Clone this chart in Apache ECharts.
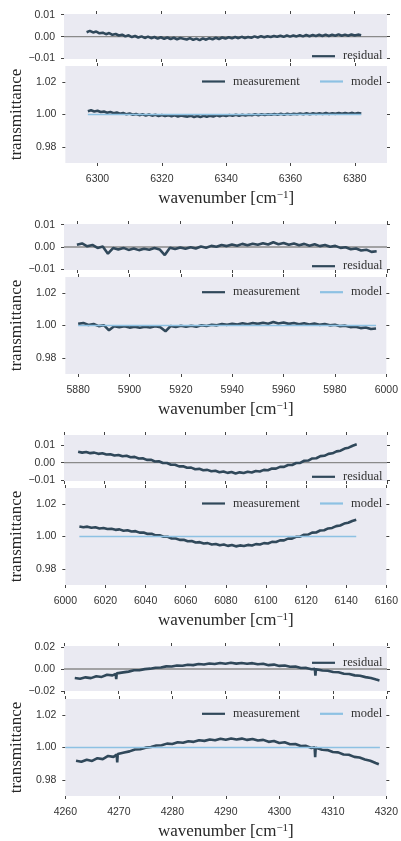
<!DOCTYPE html>
<html>
<head>
<meta charset="utf-8">
<script src="https://cdn.jsdelivr.net/npm/echarts@6/dist/echarts.min.js"></script>
<style>
  html, body { margin: 0; padding: 0; background: #fff; }
  #chart { width: 401px; height: 841px; }
</style>
</head>
<body>
<div id="chart"></div>
<script>
// panel 1: 6290-6390 cm-1
const wn1 = [6297, 6298, 6299, 6300, 6301, 6302, 6303, 6304, 6305, 6306, 6307, 6308, 6309, 6310, 6311, 6312,
  6313, 6314, 6315, 6316, 6317, 6318, 6319, 6320, 6321, 6322, 6323, 6324, 6325, 6326, 6327, 6328, 6329, 6330,
  6331, 6332, 6333, 6334, 6335, 6336, 6337, 6338, 6339, 6340, 6341, 6342, 6343, 6344, 6345, 6346, 6347, 6348,
  6349, 6350, 6351, 6352, 6353, 6354, 6355, 6356, 6357, 6358, 6359, 6360, 6361, 6362, 6363, 6364, 6365, 6366,
  6367, 6368, 6369, 6370, 6371, 6372, 6373, 6374, 6375, 6376, 6377, 6378, 6379, 6380, 6381, 6382];
const res1 = [0.0020, 0.0026, 0.0019, 0.0023, 0.0015, 0.0018, 0.0011, 0.0016, 0.0008, 0.0012, 0.0005, 0.0009,
  0.0001, 0.0006, -0.0002, 0.0003, -0.0004, 0.0001, -0.0006, 0.0000, -0.0007, -0.0002, -0.0009, -0.0003,
  -0.0010, -0.0004, -0.0011, -0.0005, -0.0012, -0.0006, -0.0010, -0.0013, -0.0007, -0.0015, -0.0009, -0.0016,
  -0.0008, -0.0014, -0.0007, -0.0012, -0.0005, -0.0011, -0.0004, -0.0009, -0.0003, -0.0008, -0.0002, -0.0007,
  -0.0001, -0.0006, -0.0002, -0.0005, 0.0001, -0.0004, 0.0002, -0.0003, 0.0002, -0.0002, 0.0003, -0.0001,
  0.0004, -0.0001, 0.0005, 0.0000, 0.0005, 0.0001, 0.0006, 0.0001, 0.0007, 0.0002, 0.0007, 0.0003, 0.0008,
  0.0003, 0.0009, 0.0003, 0.0008, 0.0004, 0.0010, 0.0004, 0.0009, 0.0004, 0.0010, 0.0005, 0.0009, 0.0006];
const modelX1 = [6297, 6382];
const model1 = [1.000, 1.000];

// panel 2: 5875-6000 cm-1
const wn2 = [5880, 5882, 5884, 5886, 5888, 5890, 5892, 5894, 5896, 5898, 5900, 5902, 5904, 5906, 5908, 5910,
  5912, 5914, 5916, 5918, 5920, 5922, 5924, 5926, 5928, 5930, 5932, 5934, 5936, 5938, 5940, 5942, 5944, 5946,
  5948, 5950, 5952, 5954, 5956, 5958, 5960, 5962, 5964, 5966, 5968, 5970, 5972, 5974, 5976, 5978, 5980, 5982,
  5984, 5986, 5988, 5990, 5992, 5994, 5996];
const res2 = [0.0010, 0.0016, 0.0003, 0.0009, -0.0004, 0.0002, -0.0030, -0.0005, -0.0011, -0.0004, -0.0013,
  -0.0007, -0.0014, -0.0008, -0.0012, -0.0005, -0.0011, -0.0036, -0.0003, -0.0009, -0.0002, -0.0008, -0.0001,
  -0.0007, 0.0002, -0.0003, 0.0005, 0.0001, 0.0009, 0.0004, 0.0011, 0.0006, 0.0014, 0.0008, 0.0015, 0.0010,
  0.0017, 0.0011, 0.0021, 0.0012, 0.0018, 0.0010, 0.0016, 0.0008, 0.0014, 0.0006, 0.0012, 0.0004, 0.0009,
  0.0001, 0.0005, -0.0004, -0.0001, -0.0010, -0.0007, -0.0016, -0.0012, -0.0022, -0.0019];
const modelX2 = [5880, 5996];
const model2 = [1.000, 1.000];

// panel 3: 6000-6160 cm-1
const wn3 = [6007, 6009, 6011, 6013, 6015, 6017, 6019, 6021, 6023, 6025, 6027, 6029, 6031, 6033, 6035, 6037,
  6039, 6041, 6043, 6045, 6047, 6049, 6051, 6053, 6055, 6057, 6059, 6061, 6063, 6065, 6067, 6069, 6071, 6073,
  6075, 6077, 6079, 6081, 6083, 6085, 6087, 6089, 6091, 6093, 6095, 6097, 6099, 6101, 6103, 6105, 6107, 6109,
  6111, 6113, 6115, 6117, 6119, 6121, 6123, 6125, 6127, 6129, 6131, 6133, 6135, 6137, 6139, 6141, 6143, 6145];
const res3 = [0.0062, 0.0057, 0.0061, 0.0054, 0.0057, 0.0050, 0.0053, 0.0046, 0.0048, 0.0041, 0.0044, 0.0036,
  0.0039, 0.0031, 0.0033, 0.0024, 0.0025, 0.0016, 0.0017, 0.0007, 0.0008, -0.0002, -0.0002, -0.0012, -0.0012,
  -0.0021, -0.0020, -0.0029, -0.0028, -0.0037, -0.0035, -0.0043, -0.0041, -0.0049, -0.0046, -0.0054, -0.0050,
  -0.0058, -0.0053, -0.0061, -0.0055, -0.0059, -0.0052, -0.0056, -0.0047, -0.0050, -0.0041, -0.0043, -0.0033,
  -0.0034, -0.0024, -0.0024, -0.0013, -0.0013, -0.0002, -0.0001, 0.0011, 0.0012, 0.0024, 0.0025, 0.0037,
  0.0039, 0.0050, 0.0053, 0.0064, 0.0068, 0.0080, 0.0085, 0.0096, 0.0104];
const modelX3 = [6007, 6145];
const model3 = [1.000, 1.000];

// panel 4: 4260-4320 cm-1
const wn4 = [4262, 4263, 4264, 4265, 4266, 4267, 4268, 4269, 4269.6, 4269.7, 4269.8, 4270, 4271, 4272, 4273,
  4274, 4275, 4276, 4277, 4278, 4279, 4280, 4281, 4282, 4283, 4284, 4285, 4286, 4287, 4288, 4289, 4290, 4291,
  4292, 4293, 4294, 4295, 4296, 4297, 4298, 4299, 4300, 4301, 4302, 4303, 4304, 4305, 4306, 4306.6, 4306.7,
  4306.8, 4307, 4308, 4309, 4310, 4311, 4312, 4313, 4314, 4315, 4316, 4317, 4318, 4318.6];
const res4 = [-0.0082, -0.0088, -0.0076, -0.0083, -0.0066, -0.0072, -0.0052, -0.0058, -0.0044, -0.0092,
  -0.0040, -0.0038, -0.0031, -0.0024, -0.0012, -0.0011, -0.0001, 0.0003, 0.0012, 0.0014, 0.0024, 0.0022,
  0.0032, 0.0029, 0.0039, 0.0035, 0.0045, 0.0041, 0.0050, 0.0045, 0.0054, 0.0048, 0.0056, 0.0049, 0.0055,
  0.0047, 0.0053, 0.0043, 0.0047, 0.0035, 0.0040, 0.0028, 0.0032, 0.0020, 0.0022, 0.0009, 0.0010, -0.0003,
  0.0001, -0.0060, -0.0002, -0.0004, -0.0014, -0.0016, -0.0028, -0.0030, -0.0043, -0.0045, -0.0058, -0.0062,
  -0.0074, -0.0082, -0.0096, -0.0104];
const modelX4 = [4260, 4318.8];
const model4 = [1.000, 1.000];

// axis limits and tick labels
const xRange1 = [6290, 6390], xTicks1 = [6300, 6320, 6340, 6360, 6380];
const xRange2 = [5875, 6000], xTicks2 = [5880, 5900, 5920, 5940, 5960, 5980, 6000];
const xRange3 = [6000, 6160], xTicks3 = [6000, 6020, 6040, 6060, 6080, 6100, 6120, 6140, 6160];
const xRange4 = [4260, 4320], xTicks4 = [4260, 4270, 4280, 4290, 4300, 4310, 4320];
const resRange1 = [-0.0102, 0.0103], resTicks1 = [-0.01, 0, 0.01];
const resRange2 = [-0.0103, 0.0103], resTicks2 = [-0.01, 0, 0.01];
const resRange3 = [-0.0104, 0.0157], resTicks3 = [-0.01, 0, 0.01];
const resRange4 = [-0.0200, 0.0209], resTicks4 = [-0.02, 0, 0.02];
const trRange = [0.97, 1.03], trTicks = [0.98, 1.00, 1.02];

const panels = [
  { x: wn1, res: res1, mx: modelX1, my: model1, xr: xRange1, xt: xTicks1, rr: resRange1, rt: resTicks1 },
  { x: wn2, res: res2, mx: modelX2, my: model2, xr: xRange2, xt: xTicks2, rr: resRange2, rt: resTicks2 },
  { x: wn3, res: res3, mx: modelX3, my: model3, xr: xRange3, xt: xTicks3, rr: resRange3, rt: resTicks3 },
  { x: wn4, res: res4, mx: modelX4, my: model4, xr: xRange4, xt: xTicks4, rr: resRange4, rt: resTicks4 }
];

// pixel layout: [top, height] of residual and transmittance axes, legend centre lines
const layout = [
  { res: [14, 45], tr: [66, 97], resLeg: 51.7, trLeg: 77 },
  { res: [224, 46], tr: [277, 97], resLeg: 261.7, trLeg: 287.7 },
  { res: [435, 46], tr: [488, 97], resLeg: 472.3, trLeg: 499 },
  { res: [646, 45], tr: [699, 97], resLeg: 658.3, trLeg: 709.3 }
];

const BG = '#eaeaf2';
const DARK = '#30485a';
const LIGHT = '#8dc1e3';
const SANS = 'Liberation Sans, Arial, sans-serif';
const SERIF = 'Liberation Serif, Times New Roman, serif';

const fmt2 = v => (v < -1e-9 ? '\u2212' : '') + Math.abs(v).toFixed(2);
const fmt0 = v => String(Math.round(v));

function axis(g, pos, range, ticks, labels, fmt, margin) {
  return {
    type: 'value', gridIndex: g, position: pos, min: range[0], max: range[1],
    axisLine: { show: false, onZero: false },
    splitLine: { show: false },
    axisTick: { show: true, length: 3, inside: false, customValues: ticks, lineStyle: { color: '#444', width: 1 } },
    axisLabel: { show: labels, customValues: ticks, formatter: fmt, margin: margin,
      fontFamily: SANS, fontSize: 10.5, color: '#333' }
  };
}

function legend(name, left, centerY) {
  return {
    data: [name], left: left, top: centerY - 7, orient: 'horizontal',
    icon: 'rect', itemWidth: 23, itemHeight: 2.2, selectedMode: false,
    textStyle: { fontFamily: SERIF, fontSize: 12.5, color: '#333', padding: [0, 0, 0, 3] }
  };
}

const option = { animation: false, backgroundColor: '#fff', grid: [], xAxis: [], yAxis: [], legend: [], series: [] };

panels.forEach((p, i) => {
  const L = layout[i];
  const gRes = option.grid.length;
  option.grid.push({ left: 64, right: 14, top: L.res[0], height: L.res[1], show: true, backgroundColor: BG, borderWidth: 0 });
  const gTr = option.grid.length;
  option.grid.push({ left: 64, right: 14, top: L.tr[0], height: L.tr[1], show: true, backgroundColor: BG, borderWidth: 0 });

  // residual axes
  option.xAxis.push(axis(gRes, 'bottom', p.xr, p.xt, false, fmt0, 11));
  option.xAxis.push(axis(gRes, 'top', p.xr, p.xt, false, fmt0, 11));
  option.yAxis.push(axis(gRes, 'left', p.rr, p.rt, true, fmt2, 9));
  option.yAxis.push(axis(gRes, 'right', p.rr, p.rt, false, fmt2, 9));

  // transmittance axes
  const xb = axis(gTr, 'bottom', p.xr, p.xt, true, fmt0, 11);
  xb.name = '{a|wavenumber [cm}{s|\u22121}{a|]}';
  xb.nameLocation = 'middle';
  xb.nameGap = 27;
  xb.nameTextStyle = { fontFamily: SERIF, fontSize: 17, color: '#262626',
    rich: { a: { fontFamily: SERIF, fontSize: 17, color: '#262626', verticalAlign: 'bottom' },
            s: { fontFamily: SERIF, fontSize: 11, color: '#262626', verticalAlign: 'top' } } };
  option.xAxis.push(xb);
  option.xAxis.push(axis(gTr, 'top', p.xr, p.xt, false, fmt0, 11));
  const yl = axis(gTr, 'left', trRange, trTicks, true, fmt2, 9);
  yl.name = 'transmittance';
  yl.nameLocation = 'middle';
  yl.nameGap = 37;
  yl.nameTextStyle = { fontFamily: SERIF, fontSize: 17, color: '#262626' };
  option.yAxis.push(yl);
  option.yAxis.push(axis(gTr, 'right', trRange, trTicks, false, fmt2, 9));

  const modelLevel = p.my[0];
  option.series.push({
    name: 'zero', type: 'line', xAxisIndex: 2 * gRes, yAxisIndex: 2 * gRes, z: 1, silent: true,
    showSymbol: false, data: [[p.xr[0], 0], [p.xr[1], 0]],
    lineStyle: { color: '#8a8a8a', width: 1.3 }
  });
  option.series.push({
    name: 'residual', type: 'line', xAxisIndex: 2 * gRes, yAxisIndex: 2 * gRes, z: 2,
    showSymbol: false, color: DARK, data: p.x.map((x, k) => [x, p.res[k]]),
    lineStyle: { color: DARK, width: 2.6 }
  });
  option.series.push({
    name: 'measurement', type: 'line', xAxisIndex: 2 * gTr, yAxisIndex: 2 * gTr, z: 2,
    showSymbol: false, color: DARK, data: p.x.map((x, k) => [x, modelLevel + p.res[k]]),
    lineStyle: { color: DARK, width: 2.6 }
  });
  option.series.push({
    name: 'model', type: 'line', xAxisIndex: 2 * gTr, yAxisIndex: 2 * gTr, z: 3,
    showSymbol: false, color: LIGHT, data: p.mx.map((x, k) => [x, p.my[k]]),
    lineStyle: { color: LIGHT, width: 1.6 }
  });

  option.legend.push(legend('residual', 307, L.resLeg));
  option.legend.push(legend('measurement', 197, L.trLeg));
  option.legend.push(legend('model', 315, L.trLeg));
});

const chart = echarts.init(document.getElementById('chart'), null, { renderer: 'canvas' });
chart.setOption(option);
</script>
</body>
</html>
